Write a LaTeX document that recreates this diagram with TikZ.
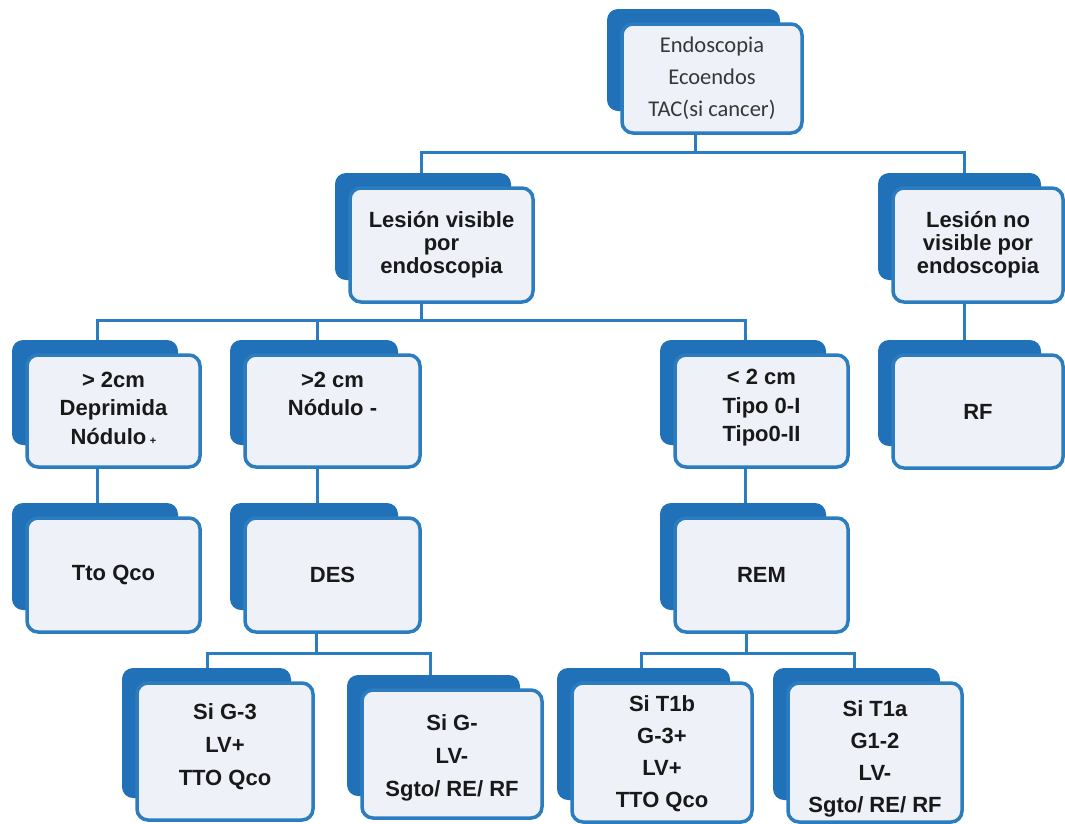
\documentclass[tikz,border=0pt]{standalone}
\usepackage{fontspec}
\setmainfont{Liberation Sans}
\newfontfamily\calib{Carlito}
\usetikzlibrary{backgrounds}
\definecolor{backc}{RGB}{32,113,184}
\definecolor{edgec}{RGB}{44,124,192}
\definecolor{fillc}{RGB}{238,242,248}
\definecolor{txtc}{RGB}{25,25,25}
\definecolor{graytxt}{RGB}{55,55,55}
\tikzset{
 front/.style={draw=edgec, line width=3.5pt, fill=fillc, rounded corners=11pt, inner sep=0pt},
 backbox/.style={fill=backc, rounded corners=11pt},
 conn/.style={draw=edgec, line width=3pt},
 lbl/.style={align=center, text=txtc, inner sep=0pt, font=\bfseries\fontsize{22}{23}\selectfont},
 toptxt/.style={text=graytxt, font=\calib\fontsize{22.5}{32}\selectfont},
 midtxt/.style={font=\bfseries\fontsize{22}{28.5}\selectfont},
 lowtxt/.style={font=\bfseries\fontsize{22}{33}\selectfont},
 low4txt/.style={font=\bfseries\fontsize{22}{32}\selectfont},
}
\newcommand\card[7]{%
 \pgfmathsetmacro\cw{#4-#2}\pgfmathsetmacro\ch{#5-#3}%
 \fill[backbox] ({#2-15},{#3-15}) rectangle ({#4-22},{#5-22});
 \node[front, minimum width=\cw pt, minimum height=\ch pt] (#1) at ({(#2+#4)/2},{(#3+#5)/2}) {};
 \node[lbl,#6] (#1-t) at (#1.center) {#7};
}
\begin{document}
\begin{tikzpicture}[x=1pt,y=-1pt]
\useasboundingbox (0,0) rectangle (1065,823);
\card{top}{622}{24}{802}{133}{toptxt}{Endoscopia\\Ecoendos\\TAC(si cancer)}
\card{lv}{350}{188}{533}{302}{}{Lesión visible\\por\\endoscopia}
\card{nv}{893}{188}{1063}{302}{}{Lesión no\\visible por\\endoscopia}
\card{ga}{27}{355}{200}{467}{midtxt,yshift=3pt}{> 2cm\\Deprimida\\Nódulo\,{\fontsize{11}{11}\selectfont +}}
\card{gb}{245}{355}{420}{467}{midtxt,yshift=17pt}{>2 cm\\Nódulo -}
\card{lc}{675}{355}{848}{467}{midtxt,yshift=3pt}{< 2 cm\\Tipo 0-I\\Tipo0-II}
\card{rf}{893}{355}{1063}{468}{}{RF}
\card{tto}{27}{518}{200}{632}{}{Tto Qco}
\card{des}{245}{518}{420}{632}{}{DES}
\card{rem}{675}{518}{848}{632}{}{REM}
\card{gthree}{137}{683}{313}{820}{lowtxt,yshift=5pt}{Si G-3\\LV+\\TTO Qco}
\card{gminus}{362}{690}{542}{818}{lowtxt,yshift=-4pt}{Si G-\\LV-\\Sgto/ RE/ RF}
\card{tonb}{572}{683}{752}{822}{low4txt,yshift=-1pt}{Si T1b\\G-3+\\LV+\\TTO Qco}
\card{tona}{788}{683}{962}{822}{low4txt,yshift=-6pt}{Si T1a\\G1-2\\LV-\\Sgto/ RE/ RF}
\begin{pgfonlayer}{background}
\coordinate (bus1) at (0,152);
\coordinate (bus2) at (0,320);
\coordinate (bus4) at (0,653);
\coordinate (topB) at ([xshift=-17pt]top.south);
\coordinate (lvT) at ([xshift=-20pt]lv.north);
\coordinate (lvB) at ([xshift=-20pt]lv.south);
\coordinate (nvT) at ([xshift=-14pt]nv.north);
\coordinate (nvB) at ([xshift=-14pt]nv.south);
\coordinate (rfT) at ([xshift=-14pt]rf.north);
\coordinate (gaT) at ([xshift=-16pt]ga.north);
\coordinate (gaB) at ([xshift=-16pt]ga.south);
\coordinate (gbT) at ([xshift=-15pt]gb.north);
\coordinate (gbB) at ([xshift=-15pt]gb.south);
\coordinate (lcT) at ([xshift=-16pt]lc.north);
\coordinate (lcB) at ([xshift=-16pt]lc.south);
\coordinate (ttoT) at ([xshift=-16pt]tto.north);
\coordinate (desT) at ([xshift=-15pt]des.north);
\coordinate (desB) at ([xshift=-16pt]des.south);
\coordinate (remT) at ([xshift=-16pt]rem.north);
\coordinate (remB) at ([xshift=-15pt]rem.south);
\coordinate (g3T) at ([xshift=-18pt]gthree.north);
\coordinate (gmT) at ([xshift=-22pt]gminus.north);
\coordinate (t1bT) at ([xshift=-21pt]tonb.north);
\coordinate (t1aT) at ([xshift=-21pt]tona.north);
\draw[conn] (topB) -- (topB |- bus1);
\draw[conn] (lvT) |- (bus1 -| nvT) -- (nvT);
\draw[conn] (lvB) -- (lvB |- bus2);
\draw[conn] (gaT) |- (bus2 -| lcT) -- (lcT);
\draw[conn] (gbT) -- (gbT |- bus2);
\draw[conn] (nvB) -- (rfT);
\draw[conn] (gaB) -- (ttoT);
\draw[conn] (gbB) -- (desT);
\draw[conn] (lcB) -- (remT);
\draw[conn] (desB) -- (desB |- bus4);
\draw[conn] (g3T) |- (bus4 -| gmT) -- (gmT);
\draw[conn] (remB) -- (remB |- bus4);
\draw[conn] (t1bT) |- (bus4 -| t1aT) -- (t1aT);
\end{pgfonlayer}
\end{tikzpicture}
\end{document}
